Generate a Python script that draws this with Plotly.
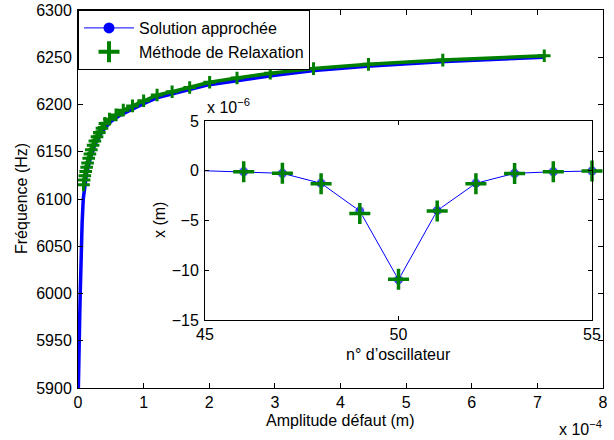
import plotly.graph_objects as go

# ---------------- data ----------------
# main curve: approximate solution (blue), amplitude in units of 1e-4 m, frequency in Hz
approx_amp_e4 = [0.0, 0.003, 0.008, 0.018, 0.026, 0.034, 0.042, 0.05, 0.063, 0.08, 0.1,
                 0.13, 0.19, 0.26, 0.36, 0.5, 0.65, 0.82, 1.0, 1.2, 1.5, 2.0, 2.5, 3.0,
                 3.6, 4.4, 5.6, 7.1]
approx_freq = [5880, 5900, 5925, 5950, 5975, 6000, 6025, 6050, 6075, 6100, 6113,
               6127, 6144, 6158, 6171, 6182, 6189, 6195, 6201, 6207, 6212, 6221, 6226,
               6231, 6236, 6240.5, 6245.5, 6250]

# relaxation method (green)
relax_amp_e4 = [0.084, 0.093, 0.104, 0.117, 0.132, 0.146, 0.163, 0.182, 0.203, 0.23,
                0.257, 0.29, 0.325, 0.365, 0.41, 0.48, 0.58, 0.69, 0.83, 1.0, 1.205,
                1.434, 1.702, 2.006, 2.423, 2.93, 3.589, 4.426, 5.559, 7.105]
relax_freq = [6115, 6120, 6124.5, 6129, 6133.5, 6138, 6143, 6147.5, 6152, 6157,
              6161.5, 6166, 6170.5, 6175, 6180, 6184.5, 6189, 6194, 6198.5, 6204, 6210,
              6213.5, 6218, 6223.5, 6228, 6233, 6238, 6242.5, 6247, 6251.6]

# inset: displacement per oscillator (units of 1e-6 m)
osc_index = [45, 46, 47, 48, 49, 50, 51, 52, 53, 54, 55]
approx_x_e6 = [0.0, -0.1, -0.26, -1.26, -4.05, -10.95, -4.0, -1.26, -0.26, -0.1, -0.03]
relax_index = [46, 47, 48, 49, 50, 51, 52, 53, 54, 55]
relax_x_e6 = [-0.1, -0.26, -1.3, -4.3, -10.9, -4.05, -1.3, -0.28, -0.1, -0.03]

main_xticks = [0, 1, 2, 3, 4, 5, 6, 7, 8]
main_yticks = [5900, 5950, 6000, 6050, 6100, 6150, 6200, 6250, 6300]
inset_xticks = [45, 50, 55]
inset_yticks = [5, 0, -5, -10, -15]

BLUE = "rgb(0,0,255)"
GREEN = "rgb(0,128,0)"
FONT = "Liberation Sans, Arial, Helvetica, sans-serif"
FS = 16

fig = go.Figure()

# main traces
fig.add_trace(go.Scatter(x=[a * 1e-4 for a in approx_amp_e4], y=approx_freq, mode="lines",
                         line=dict(color=BLUE, width=3.5), showlegend=False,
                         xaxis="x", yaxis="y"))
fig.add_trace(go.Scatter(x=[a * 1e-4 for a in relax_amp_e4], y=relax_freq, mode="lines+markers",
                         line=dict(color=GREEN, width=3.5),
                         marker=dict(symbol="cross-thin", size=9, line=dict(color=GREEN, width=3)),
                         showlegend=False, xaxis="x", yaxis="y"))

# inset traces
fig.add_trace(go.Scatter(x=osc_index, y=[v * 1e-6 for v in approx_x_e6], mode="lines+markers",
                         line=dict(color=BLUE, width=1),
                         marker=dict(symbol="circle", color=BLUE,
                                     size=[0] + [10] * (len(osc_index) - 1)),
                         cliponaxis=False, showlegend=False, xaxis="x2", yaxis="y2"))
fig.add_trace(go.Scatter(x=relax_index, y=[v * 1e-6 for v in relax_x_e6], mode="markers",
                         marker=dict(symbol="cross-thin", size=15, line=dict(color=GREEN, width=3.5)),
                         cliponaxis=False, showlegend=False, xaxis="x2", yaxis="y2"))

# legend entries
fig.add_trace(go.Scatter(x=[None], y=[None], mode="lines+markers", name="Solution approchée",
                         line=dict(color=BLUE, width=1),
                         marker=dict(symbol="circle", color=BLUE, size=11),
                         xaxis="x", yaxis="y"))
fig.add_trace(go.Scatter(x=[None], y=[None], mode="markers", name="Méthode de Relaxation",
                         marker=dict(symbol="cross-thin", size=15, line=dict(color=GREEN, width=4)),
                         xaxis="x", yaxis="y"))

L, R, T, B = 78, 11, 10, 52
W, H = 614, 440
PW, PH = W - L - R, H - T - B


def px_x(px):
    return (px - L) / PW


def px_y(py):
    return (H - B - py) / PH


axis_common = dict(showline=True, linecolor="black", linewidth=1, mirror="ticks",
                   ticks="inside", tickcolor="black", showgrid=False, zeroline=False,
                   automargin=False,
                   tickfont=dict(family=FONT, size=FS, color="black"))

fig.update_layout(
    width=W, height=H,
    margin=dict(l=L, r=R, t=T, b=B, autoexpand=False),
    paper_bgcolor="white", plot_bgcolor="white",
    font=dict(family=FONT, size=FS, color="black"),
    xaxis=dict(domain=[0, 1], range=[0, 8e-4], tickvals=[t * 1e-4 for t in main_xticks],
               ticktext=[str(t) for t in main_xticks], ticklen=5, ticklabelstandoff=0,
               anchor="y", **axis_common),
    yaxis=dict(domain=[0, 1], range=[5900, 6300], tickvals=main_yticks,
               ticktext=[str(t) for t in main_yticks], ticklen=5, ticklabelstandoff=2,
               anchor="x", **axis_common),
    xaxis2=dict(domain=[px_x(205), px_x(592)], range=[45, 55], tickvals=inset_xticks,
                ticktext=[str(t) for t in inset_xticks], ticklen=4, ticklabelstandoff=0,
                anchor="y2", **axis_common),
    yaxis2=dict(domain=[px_y(320), px_y(121)], range=[-15e-6, 5e-6],
                tickvals=[t * 1e-6 for t in inset_yticks],
                ticktext=[str(t).replace("-", "\u2212") for t in inset_yticks],
                ticklen=4, ticklabelstandoff=2, anchor="x2", **axis_common),
    legend=dict(x=0, y=1, xanchor="left", yanchor="top", bgcolor="white",
                bordercolor="black", borderwidth=1, itemwidth=50,
                font=dict(family=FONT, size=FS, color="black"), tracegroupgap=0),
    annotations=[
        dict(text="Fréquence (Hz)", xref="paper", yref="paper", x=px_x(21), y=px_y(199),
             textangle=-90, showarrow=False, xanchor="center", yanchor="middle"),
        dict(text="Amplitude défaut (m)", xref="paper", yref="paper", x=px_x(340), y=px_y(421),
             showarrow=False, xanchor="center", yanchor="middle"),
        dict(text="x 10<sup>\u22124</sup>", xref="paper", yref="paper", x=px_x(604), y=px_y(428),
             showarrow=False, xanchor="right", yanchor="middle"),
        dict(text="x (m)", xref="paper", yref="paper", x=px_x(159), y=px_y(220),
             textangle=-90, showarrow=False, xanchor="center", yanchor="middle"),
        dict(text="n° d’oscillateur", xref="paper", yref="paper", x=px_x(398.5), y=px_y(354),
             showarrow=False, xanchor="center", yanchor="middle"),
        dict(text="x 10<sup>\u22126</sup>", xref="paper", yref="paper", x=px_x(205), y=px_y(106),
             showarrow=False, xanchor="left", yanchor="middle"),
    ],
)

fig.write_html("out.html")
